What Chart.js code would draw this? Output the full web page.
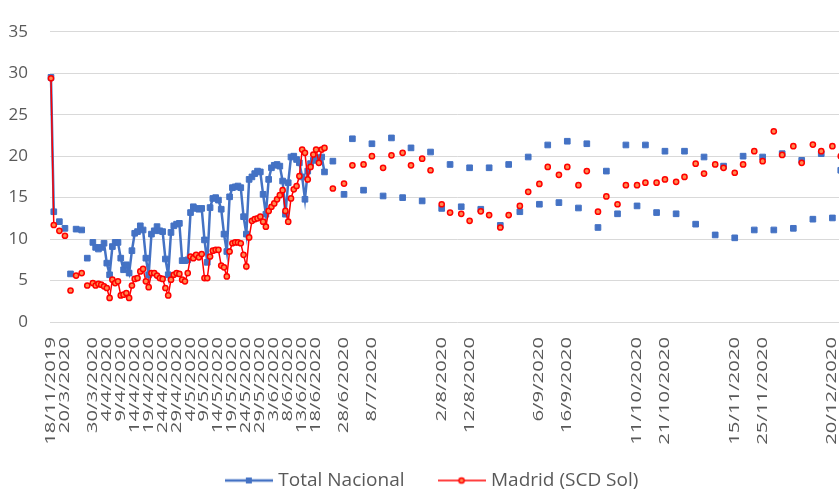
<!DOCTYPE html>
<html>
<head>
<meta charset="utf-8">
<script src="https://cdn.jsdelivr.net/npm/chart.js@4"></script>
<style>
  html, body { margin: 0; padding: 0; background: #ffffff; overflow: hidden; }
  #wrap { width: 870px; height: 500px; }
</style>
</head>
<body>
<div id="wrap"><canvas id="c" width="870" height="500"></canvas></div>
<script>
// ---- Data ----
const seriesNames = ['Total Nacional', 'Madrid (SCD Sol)'];

const fechas2019 = ['18/11/2019'];
const nac2019 = [29.5];
const mad2019 = [29.4];

const diasMar = [16, 18, 20, 22, 24, 26, 28, 30, 31];
const nacMar = [13.3, 12.1, 11.3, 5.8, 11.2, 11.1, 7.7, 9.6, 9.0];
const madMar = [11.7, 11.0, 10.4, 3.8, 5.6, 5.9, 4.4, 4.7, 4.4];

const diasAbr = [1,2,3,4,5,6,7,8,9,10,11,12,13,14,15,16,17,18,19,20,21,22,23,24,25,26,27,28,29,30];
const nacAbr = [8.8, 9.0, 9.5, 7.1, 5.7, 9.1, 9.6, 9.6, 7.7, 6.3, 6.9, 5.9, 8.6, 10.7, 10.9, 11.6, 11.1, 7.7, 5.7, 10.6, 11.0, 11.5, 11.0, 10.9, 7.6, 5.7, 10.8, 11.6, 11.8, 11.9];
const madAbr = [4.6, 4.5, 4.3, 4.1, 2.9, 5.1, 4.7, 4.9, 3.2, 3.3, 3.5, 2.9, 4.4, 5.2, 5.3, 6.1, 6.4, 4.9, 4.2, 5.9, 5.9, 5.6, 5.3, 5.2, 4.1, 3.2, 5.1, 5.7, 5.9, 5.8];

const diasMay = [1,2,3,4,5,6,7,8,9,10,11,12,13,14,15,16,17,18,19,20,21,22,23,24,25,26,27,28,29,30,31];
const nacMay = [7.4, 7.4, 7.5, 13.2, 13.9, 13.7, 13.6, 13.7, 9.9, 7.2, 13.8, 14.9, 15.0, 14.7, 13.6, 10.6, 8.5, 15.1, 16.2, 16.3, 16.4, 16.2, 12.7, 10.6, 17.2, 17.5, 17.9, 18.2, 18.1, 15.4, 13.0];
const madMay = [5.1, 4.9, 5.9, 7.9, 7.7, 8.1, 7.8, 8.2, 5.3, 5.3, 7.9, 8.6, 8.7, 8.7, 6.8, 6.6, 5.5, 8.5, 9.5, 9.6, 9.6, 9.5, 8.1, 6.7, 10.2, 12.2, 12.4, 12.5, 12.7, 12.1, 11.5];

const diasJun = [1,2,3,4,5,6,7,8,9,10,11,12,13,14,15,16,17,18,19,20,21,24,28];
const nacJun = [17.2, 18.6, 18.9, 19.0, 18.8, 17.0, 13.0, 16.8, 19.9, 20.0, 19.6, 19.2, 17.5, 14.8, 18.2, 19.1, 19.5, 19.6, 19.8, 19.9, 18.1, 19.4, 15.4];
const madJun = [13.4, 13.9, 14.3, 14.8, 15.3, 15.9, 13.4, 12.1, 14.9, 16.0, 16.4, 17.6, 20.8, 20.4, 17.2, 18.7, 20.2, 20.8, 19.2, 20.8, 21.0, 16.1, 16.7];

const diasJul = [1, 5, 8, 12, 15, 19, 22, 26, 29];
const nacJul = [22.1, 15.9, 21.5, 15.2, 22.2, 15.0, 21.0, 14.6, 20.5];
const madJul = [18.9, 19.0, 20.0, 18.6, 20.1, 20.4, 18.9, 19.7, 18.3];

const diasAgo = [2, 5, 9, 12, 16, 19, 23, 26, 30];
const nacAgo = [13.7, 19.0, 13.9, 18.6, 13.6, 18.6, 11.65, 19.0, 13.3];
const madAgo = [14.2, 13.2, 13.05, 12.2, 13.35, 12.9, 11.4, 12.9, 14.0];

const diasSep = [2, 6, 9, 13, 16, 20, 23, 27, 30];
const nacSep = [19.9, 14.2, 21.35, 14.4, 21.8, 13.75, 21.5, 11.4, 18.2];
const madSep = [15.7, 16.65, 18.7, 17.75, 18.7, 16.5, 18.2, 13.3, 15.15];

const diasOct = [4, 7, 11, 14, 18, 21, 25, 28];
const nacOct = [13.05, 21.35, 14.0, 21.35, 13.2, 20.6, 13.05, 20.6];
const madOct = [14.2, 16.5, 16.5, 16.8, 16.8, 17.2, 16.9, 17.5];

const diasNov = [1, 4, 8, 11, 15, 18, 22, 25, 29];
const nacNov = [11.8, 19.9, 10.5, 18.8, 10.15, 20.0, 11.1, 19.9, 11.1];
const madNov = [19.1, 17.9, 19.0, 18.6, 18.0, 19.0, 20.6, 19.4, 23.0];

const diasDic = [2, 6, 9, 13, 16, 20, 23];
const nacDic = [20.3, 11.3, 19.5, 12.4, 20.3, 12.55, 18.3];
const madDic = [20.15, 21.2, 19.2, 21.4, 20.6, 21.2, 20.0];

// tick labels shown on the category axis
const tickLabels = ['18/11/2019','20/3/2020','30/3/2020','4/4/2020','9/4/2020','14/4/2020','19/4/2020','24/4/2020','29/4/2020',
  '4/5/2020','9/5/2020','14/5/2020','19/5/2020','24/5/2020','29/5/2020','3/6/2020','8/6/2020','13/6/2020','18/6/2020',
  '28/6/2020','8/7/2020','2/8/2020','12/8/2020','6/9/2020','16/9/2020','11/10/2020','21/10/2020','15/11/2020','25/11/2020','20/12/2020'];

// ---- Build observation table ----
const months = [
  [3, diasMar, nacMar, madMar], [4, diasAbr, nacAbr, madAbr], [5, diasMay, nacMay, madMay],
  [6, diasJun, nacJun, madJun], [7, diasJul, nacJul, madJul], [8, diasAgo, nacAgo, madAgo],
  [9, diasSep, nacSep, madSep], [10, diasOct, nacOct, madOct], [11, diasNov, nacNov, madNov],
  [12, diasDic, nacDic, madDic]
];
const obsNac = {}, obsMad = {};
fechas2019.forEach((f, i) => { obsNac[f] = nac2019[i]; obsMad[f] = mad2019[i]; });
months.forEach(([m, dias, nac, mad]) => {
  dias.forEach((d, i) => { const k = d + '/' + m + '/2020'; obsNac[k] = nac[i]; obsMad[k] = mad[i]; });
});

// categories: first sample, then one slot per day (Excel-like category axis)
const categories = fechas2019.slice();
for (let t = Date.UTC(2020, 2, 16); t <= Date.UTC(2020, 11, 31); t += 86400000) {
  const d = new Date(t);
  categories.push(d.getUTCDate() + '/' + (d.getUTCMonth() + 1) + '/' + d.getUTCFullYear());
}
const serieNac = categories.map(c => (c in obsNac) ? obsNac[c] : null);
const serieMad = categories.map(c => (c in obsMad) ? obsMad[c] : null);

// ---- Legend symbols (line with marker) ----
function legendSymbol(color, kind) {
  const cv = document.createElement('canvas');
  cv.width = 48; cv.height = 10;
  const g = cv.getContext('2d');
  g.strokeStyle = color; g.lineWidth = kind === 'rect' ? 2.5 : 1.5;
  g.beginPath(); g.moveTo(0, 5); g.lineTo(48, 5); g.stroke();
  if (kind === 'rect') {
    g.fillStyle = color; g.fillRect(21, 2, 6, 6);
  } else {
    g.fillStyle = '#ff8a50'; g.strokeStyle = color; g.lineWidth = 1.5;
    g.beginPath(); g.arc(24, 5, 2.6, 0, Math.PI * 2); g.fill(); g.stroke();
  }
  return cv;
}
const symNac = legendSymbol('#4472C4', 'rect');
const symMad = legendSymbol('#FF0000', 'circle');

// ---- Rotated, stretched x labels drawn at the category scale positions ----
const xLabelPlugin = {
  id: 'xLabels',
  afterDraw(chart) {
    const sc = chart.scales.x;
    const ctx = chart.ctx;
    ctx.save();
    ctx.font = '14px "Open Sans"';
    ctx.fillStyle = '#595959';
    ctx.textAlign = 'right';
    ctx.textBaseline = 'middle';
    categories.forEach((c, i) => {
      if (tickLabels.indexOf(c) < 0) return;
      const x = sc.getPixelForValue(i);
      ctx.save();
      ctx.translate(x, chart.chartArea.bottom + 15);
      ctx.rotate(-Math.PI / 2);
      ctx.scale(1.45, 1);
      ctx.fillText(c, 0, 0);
      ctx.restore();
    });
    ctx.restore();
  }
};

new Chart(document.getElementById('c'), {
  type: 'line',
  data: {
    labels: categories,
    datasets: [
      {
        label: seriesNames[0],
        data: serieNac,
        order: 2,
        borderColor: '#4472C4',
        backgroundColor: '#4472C4',
        borderWidth: 2.5,
        pointStyle: 'rect',
        pointRadius: 4,
        pointBorderWidth: 1,
        pointBackgroundColor: '#4472C4',
        pointBorderColor: '#4472C4',
        spanGaps: false,
        tension: 0
      },
      {
        label: seriesNames[1],
        data: serieMad,
        order: 1,
        borderColor: '#FF0000',
        backgroundColor: '#FF0000',
        borderWidth: 1.5,
        pointStyle: 'circle',
        pointRadius: 2.6,
        pointBorderWidth: 1.5,
        pointBackgroundColor: '#ff8a50',
        pointBorderColor: '#FF0000',
        spanGaps: false,
        tension: 0
      }
    ]
  },
  options: {
    responsive: false,
    devicePixelRatio: 1,
    animation: false,
    layout: { padding: { left: 0, right: 2.8, top: 12, bottom: 0 } },
    plugins: {
      tooltip: { enabled: false },
      legend: {
        position: 'bottom',
        labels: {
          usePointStyle: true,
          pointStyleWidth: 40,
          padding: 37,
          color: '#595959',
          font: { family: '"Open Sans"', size: 19 },
          generateLabels: () => [
            { text: seriesNames[0], pointStyle: symNac, fillStyle: '#4472C4', strokeStyle: '#4472C4', lineWidth: 0, fontColor: '#595959', datasetIndex: 0 },
            { text: seriesNames[1], pointStyle: symMad, fillStyle: '#FF0000', strokeStyle: '#FF0000', lineWidth: 0, fontColor: '#595959', datasetIndex: 1 }
          ]
        }
      }
    },
    scales: {
      x: {
        type: 'category',
        offset: true,
        grid: { display: false },
        border: { display: false },
        ticks: { display: false },
        afterFit: s => { s.height = 112; }
      },
      y: {
        min: 0,
        max: 35,
        ticks: {
          stepSize: 5,
          padding: 21.6,
          color: '#595959',
          font: { family: '"Open Sans"', size: 17 }
        },
        grid: { color: '#d9d9d9', lineWidth: 1, drawTicks: false },
        border: { display: false },
        afterFit: s => { s.width = 49.6; }
      }
    }
  },
  plugins: [xLabelPlugin]
});
</script>
</body>
</html>
